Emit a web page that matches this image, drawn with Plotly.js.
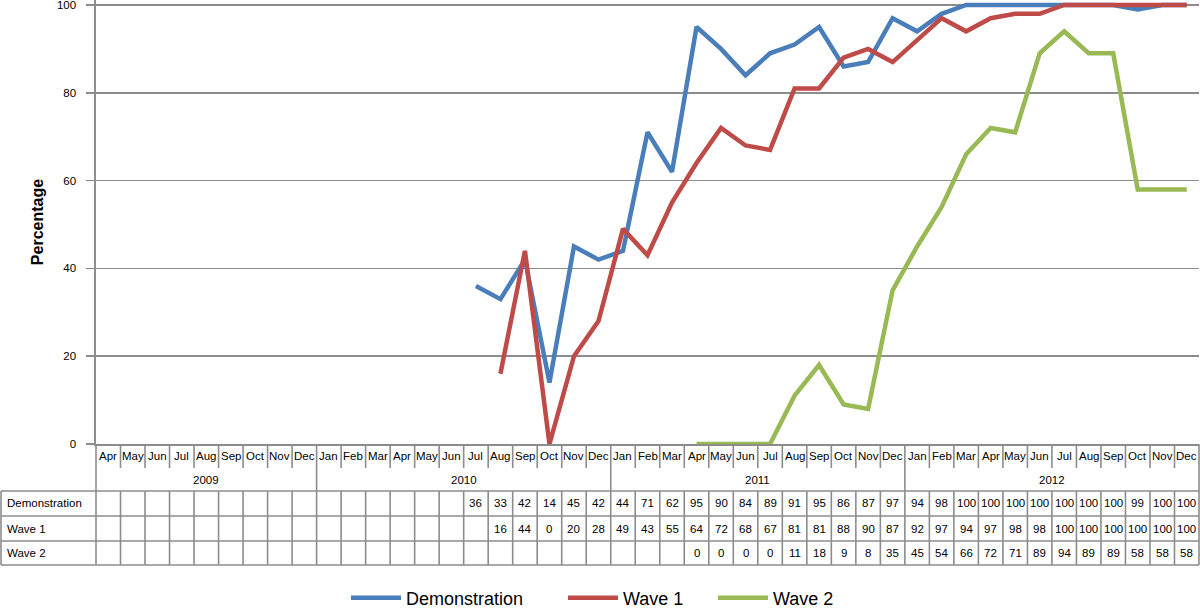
<!DOCTYPE html>
<html><head><meta charset="utf-8">
<script src="https://cdn.plot.ly/plotly-3.0.1.min.js"></script>
<style>html,body{margin:0;padding:0;background:#fff}#chart{width:1200px;height:609px}</style>
</head><body><div id="chart"></div>
<script>
// ---- data ----
const months = ['Apr','May','Jun','Jul','Aug','Sep','Oct','Nov','Dec',
  'Jan','Feb','Mar','Apr','May','Jun','Jul','Aug','Sep','Oct','Nov','Dec',
  'Jan','Feb','Mar','Apr','May','Jun','Jul','Aug','Sep','Oct','Nov','Dec',
  'Jan','Feb','Mar','Apr','May','Jun','Jul','Aug','Sep','Oct','Nov','Dec'];
const years = ['2009','2010','2011','2012'];
const monthsPerYear = [9, 12, 12, 12];
const seriesNames = ['Demonstration', 'Wave 1', 'Wave 2'];
const demonstration = [null,null,null,null,null,null,null,null,null,
  null,null,null,null,null,null,36,33,42,14,45,42,
  44,71,62,95,90,84,89,91,95,86,87,97,
  94,98,100,100,100,100,100,100,100,99,100,100];
const wave1 = [null,null,null,null,null,null,null,null,null,
  null,null,null,null,null,null,null,16,44,0,20,28,
  49,43,55,64,72,68,67,81,81,88,90,87,
  92,97,94,97,98,98,100,100,100,100,100,100];
const wave2 = [null,null,null,null,null,null,null,null,null,
  null,null,null,null,null,null,null,null,null,null,null,null,
  null,null,null,0,0,0,0,11,18,9,8,35,
  45,54,66,72,71,89,94,89,89,58,58,58];
const yTicks = [0, 20, 40, 60, 80, 100];

// ---- styling / geometry ----
const W = 1200, H = 609, ML = 96, MR = 1, MT = 0, MB = 165;
const plotW = W - ML - MR, plotH = H - MT - MB, plotBottom = H - MB;
const py = p => (plotBottom - p) / plotH;   // pixel row -> paper y
const px = p => (p - ML) / plotW;           // pixel col -> paper x
const yTop = 100 * plotH / (plotBottom - 5); // 100 sits 5px below the top
const colors = ['#4a7ebb', '#be4b48', '#98b954'];
const gridCol = '#8c8c8c', lineCol = '#8c8c8c';
const font = 'Liberation Sans, Arial, Helvetica, sans-serif';
const allSeries = [demonstration, wave1, wave2];
const xIdx = months.map((m, i) => i);
const legendIds = ['legend', 'legend2', 'legend3'];
const legendX = [346, 563, 713];

const traces = allSeries.map((s, k) => ({
  x: xIdx, y: s, name: seriesNames[k], type: 'scatter', mode: 'lines',
  line: {color: colors[k], width: 4.5}, connectgaps: false, hoverinfo: 'x+y',
  legend: legendIds[k]
}));

const shapes = [], annotations = [];
const rowTops = {month: 444, year: 468, demo: 491, w1: 516, w2: 541, end: 565};
const rowCenters = [503.5, 528.5, 553];
const L = {color: lineCol, width: 1.6};
const tFont = {family: font, size: 11.5, color: '#000'};

// year boundaries
const yearBounds = [0];
monthsPerYear.forEach(c => yearBounds.push(yearBounds[yearBounds.length - 1] + c));

// vertical lines per month boundary
for (let k = 0; k <= months.length; k++) {
  const isEdge = (k === 0 || k === months.length);
  const isYear = yearBounds.includes(k);
  const xr = isEdge ? 'paper' : 'x';
  const xv = isEdge ? (k === 0 ? 0 : 1) : k - 0.5;
  if (isYear) {
    shapes.push({type: 'line', xref: xr, yref: 'paper', x0: xv, x1: xv,
      y0: py(rowTops.month), y1: py(rowTops.end), line: L});
  } else {
    shapes.push({type: 'line', xref: xr, yref: 'paper', x0: xv, x1: xv,
      y0: py(rowTops.month), y1: py(rowTops.year), line: L});
    shapes.push({type: 'line', xref: xr, yref: 'paper', x0: xv, x1: xv,
      y0: py(rowTops.demo), y1: py(rowTops.end), line: L});
  }
}
// horizontal table lines
[rowTops.demo, rowTops.w1, rowTops.w2, rowTops.end].forEach(r => {
  shapes.push({type: 'line', xref: 'paper', yref: 'paper', x0: px(1), x1: 1,
    y0: py(r), y1: py(r), line: L});
});
// left border of label column
shapes.push({type: 'line', xref: 'paper', yref: 'paper', x0: px(1), x1: px(1),
  y0: py(rowTops.demo), y1: py(rowTops.end), line: L});

// month labels
months.forEach((m, i) => annotations.push({xref: 'x', yref: 'paper', x: i, y: py(456),
  text: m, showarrow: false, font: tFont, xanchor: 'center', yanchor: 'middle'}));
// year labels
years.forEach((yv, j) => annotations.push({xref: 'x', yref: 'paper',
  x: (yearBounds[j] + yearBounds[j + 1] - 1) / 2, y: py(479.5),
  text: yv, showarrow: false, font: tFont, xanchor: 'center', yanchor: 'middle'}));
// row labels and values
allSeries.forEach((s, k) => {
  annotations.push({xref: 'paper', yref: 'paper', x: px(5), y: py(rowCenters[k]),
    text: seriesNames[k], showarrow: false, xanchor: 'left', yanchor: 'middle', font: tFont});
  s.forEach((v, i) => {
    if (v === null) return;
    annotations.push({xref: 'x', yref: 'paper', x: i, y: py(rowCenters[k]),
      text: String(v), showarrow: false, xanchor: 'center', yanchor: 'middle', font: tFont});
  });
});

const layout = {
  width: W, height: H,
  margin: {l: ML, r: MR, t: MT, b: MB, pad: 0, autoexpand: false},
  paper_bgcolor: '#fff', plot_bgcolor: '#fff',
  font: {family: font, color: '#000'},
  showlegend: true,
  xaxis: {range: [-0.5, months.length - 0.5], showgrid: false, zeroline: false,
    showticklabels: false, ticks: '', showline: true, linecolor: lineCol, linewidth: 1.6,
    fixedrange: true},
  yaxis: {range: [0, yTop], tickvals: yTicks, showgrid: true, gridcolor: gridCol, gridwidth: 1.6,
    zeroline: false, showline: true, linecolor: lineCol, linewidth: 1.6,
    ticks: 'outside', ticklen: 8, tickwidth: 1.6, tickcolor: lineCol,
    ticklabelstandoff: 8, ticklabeloverflow: 'allow',
    tickfont: {family: font, size: 11.5, color: '#000'},
    title: {text: 'Percentage', font: {family: font, size: 16, color: '#000', weight: 'bold'}, standoff: 9},
    fixedrange: true},
  shapes: shapes, annotations: annotations
};
legendIds.forEach((id, k) => {
  layout[id] = {orientation: 'h', x: px(legendX[k]), xanchor: 'left', y: py(598), yanchor: 'middle',
    itemwidth: 50, font: {family: font, size: 18, color: '#000'}, bgcolor: 'rgba(0,0,0,0)'};
});

Plotly.newPlot('chart', traces, layout, {displayModeBar: false, staticPlot: true});
</script></body></html>
